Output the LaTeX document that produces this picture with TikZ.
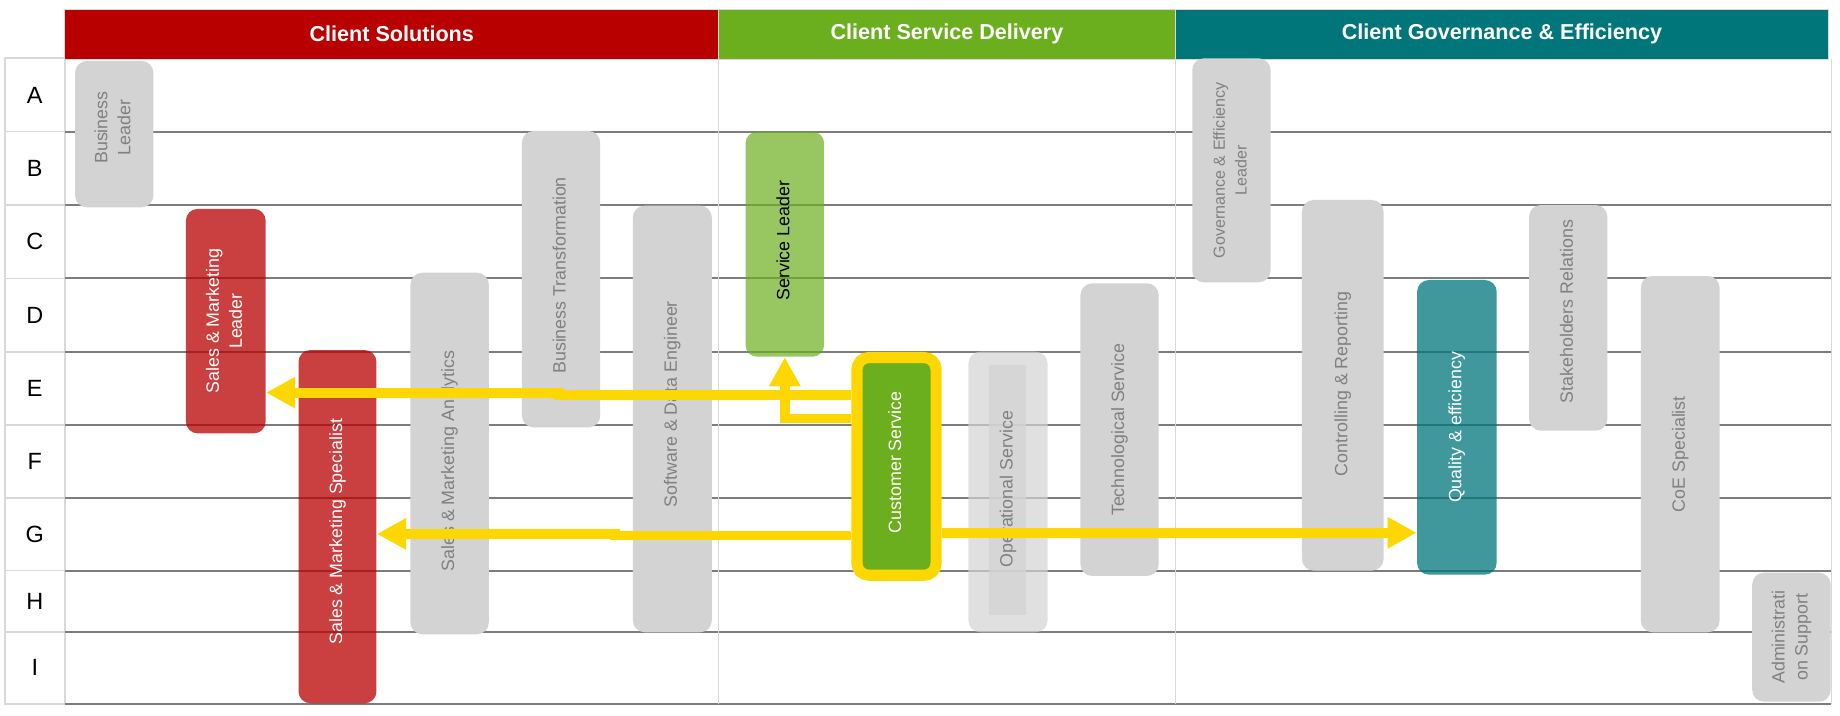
\documentclass[tikz,border=0pt]{standalone}
\usepackage{fontspec}
\setmainfont{Liberation Sans}
\usepackage{graphicx}
\usetikzlibrary{arrows.meta}
\definecolor{hred}{RGB}{184,0,0}
\definecolor{hgreen}{RGB}{108,175,30}
\definecolor{hteal}{RGB}{0,118,123}
\definecolor{boxgray}{RGB}{211,211,211}
\definecolor{txtgray}{RGB}{128,128,128}
\definecolor{gridgray}{RGB}{125,125,125}
\definecolor{lightline}{RGB}{217,217,217}
\definecolor{arrowyellow}{RGB}{255,215,0}
\newcommand{\vtext}[2][0pt]{\rotatebox{90}{\hspace*{#1}\begin{tabular}{@{}c@{}}#2\end{tabular}\hspace*{-#1}}}
\newcommand{\boxfont}{\fontsize{7.6}{9.8}\selectfont}
\newcommand{\smallboxfont}{\fontsize{6.85}{9.3}\selectfont}
\tikzset{
  sz/.style 2 args={minimum width=#1*0.5pt, minimum height=#2*0.5pt},
  box/.style={rectangle, rounded corners=5pt, inner sep=0pt, anchor=center, font=\boxfont},
  graybox/.style={box, fill=boxgray, text=txtgray},
  redbox/.style={box, fill=hred, fill opacity=0.75, text opacity=1, text=white},
  greenbox/.style={box, fill=hgreen, fill opacity=0.7, text opacity=1, text=black},
  tealbox/.style={box, fill=hteal, fill opacity=0.75, text opacity=1, text=white},
  hdr/.style={rectangle, inner sep=0pt, anchor=center, text=white, font=\fontsize{9.2}{11}\selectfont\bfseries, draw=lightline, line width=0.4pt},
  rowlab/.style={rectangle, inner sep=0pt, anchor=center, draw=lightline, line width=0.7pt, font=\fontsize{10}{12}\selectfont, text=black},
  gridline/.style={draw=gridgray, line width=0.75pt},
  colline/.style={draw=lightline, line width=0.7pt},
  arr/.style={draw=arrowyellow, line width=4.2pt, -{Triangle[length=12.4pt,width=12.6pt]}},
}
\begin{document}
\begin{tikzpicture}[x=0.5pt,y=-0.5pt]
\useasboundingbox (0,0) rectangle (1568,610);
% row labels
\node[rowlab, sz={51.3}{62.5}] (rA) at (29.65,80.95) {A};
\node[rowlab, sz={51.3}{62.5}] (rB) at (29.65,143.45) {B};
\node[rowlab, sz={51.3}{62.5}] (rC) at (29.65,205.95) {C};
\node[rowlab, sz={51.3}{62.5}] (rD) at (29.65,268.45) {D};
\node[rowlab, sz={51.3}{62.5}] (rE) at (29.65,330.95) {E};
\node[rowlab, sz={51.3}{62.2}] (rF) at (29.65,393.3) {F};
\node[rowlab, sz={51.3}{61.9}] (rG) at (29.65,455.35) {G};
\node[rowlab, sz={51.3}{52.0}] (rH) at (29.65,512.3) {H};
\node[rowlab, sz={51.3}{61.7}] (rI) at (29.65,569.15) {I};
% grid
\foreach \yy in {112.2,174.7,237.2,299.7,362.2,424.4,486.3,538.3,600}
  \draw[gridline] (55.3,\yy) -- (1560.7,\yy);
\draw[colline] (612.4,50.3) -- (612.4,600);
\draw[colline] (1001.6,50.3) -- (1001.6,600);
\draw[colline] (1560.7,50.3) -- (1560.7,600);
% headers
\node[hdr, fill=hred, sz={557.1}{42.6}] (h1) at (333.85,29) {Client Solutions};
\node[hdr, fill=hgreen, sz={389.2}{42.6}] (h2) at (807,29) {Client Service Delivery};
\node[hdr, fill=hteal, sz={556.7}{42.6}] (h3) at (1279.95,29) {Client Governance \& Efficiency};
% boxes
\node[graybox, sz={66.7}{124.7}] (bl) at (97.35,114.35) {\vtext[2.8pt]{Business\\Leader}};
\node[redbox, sz={68}{191.3}] (sml) at (192.4,273.65) {\vtext{Sales \& Marketing\\Leader}};
\node[redbox, sz={66.4}{301}] (sms) at (287.6,448.8) {\vtext[-2.1pt]{Sales \& Marketing Specialist}};
\node[graybox, sz={66.7}{308.1}] (sma) at (383.15,386.45) {\vtext[-3.15pt]{Sales \& Marketing Analytics}};
\node[graybox, sz={66.7}{252.6}] (bt) at (478.15,237.9) {\vtext[1.6pt]{Business Transformation}};
\node[graybox, sz={67.3}{363.5}] (sde) at (572.95,357.05) {\vtext[6.3pt]{Software \& Data Engineer}};
\node[greenbox, sz={67}{191.8}] (sl) at (668.8,208.1) {\vtext[1.5pt]{Service Leader}};
\node[box, fill=hgreen, draw=arrowyellow, line width=4.75pt, text=white, sz={67.4}{185.5}] (cs) at (764,397.45) {\vtext[1.7pt]{Customer Service}};
\fill[boxgray, fill opacity=0.77] (843.2,311) rectangle (874.2,524);
\node[graybox, fill opacity=0.7, text opacity=1, sz={67.4}{239.1}] (os) at (859,419.25) {\vtext[1.15pt]{Operational Service}};
\node[graybox, sz={66.7}{249.3}] (ts) at (954.05,366.15) {\vtext{Technological Service}};
\node[graybox, font=\smallboxfont, sz={66.7}{190.9}] (gel) at (1049.35,145.15) {\vtext{Governance \& Efficiency\\Leader}};
\node[graybox, sz={69.5}{315.9}] (cr) at (1144.25,328.35) {\vtext[0.6pt]{Controlling \& Reporting}};
\node[tealbox, sz={67.8}{251.1}] (qe) at (1241.5,364.15) {\vtext{Quality \& efficiency}};
\node[graybox, sz={66.7}{192.3}] (sr) at (1336.35,270.85) {\vtext[2.65pt]{Stakeholders Relations}};
\node[graybox, sz={67.2}{303.6}] (coe) at (1431.8,387) {\vtext{CoE Specialist}};
\node[graybox, sz={66.8}{110}] (as) at (1526.6,543) {\vtext{Administrati\\on Support}};
% connectors
\draw[arr] (cs.west |- 0,336.6) -- (476,336.6) -- (476,334.6) -- (sml.east |- 0,334.6);
\draw[arr] (cs.west |- 0,356.6) -| (sl.south);
\draw[arr] (cs.west |- 0,456.3) -- (524,456.3) -- (524,455) -- (sms.east |- 0,455);
\draw[arr] (cs.east |- 0,454) -- (qe.west |- 0,454);
\end{tikzpicture}
\end{document}
